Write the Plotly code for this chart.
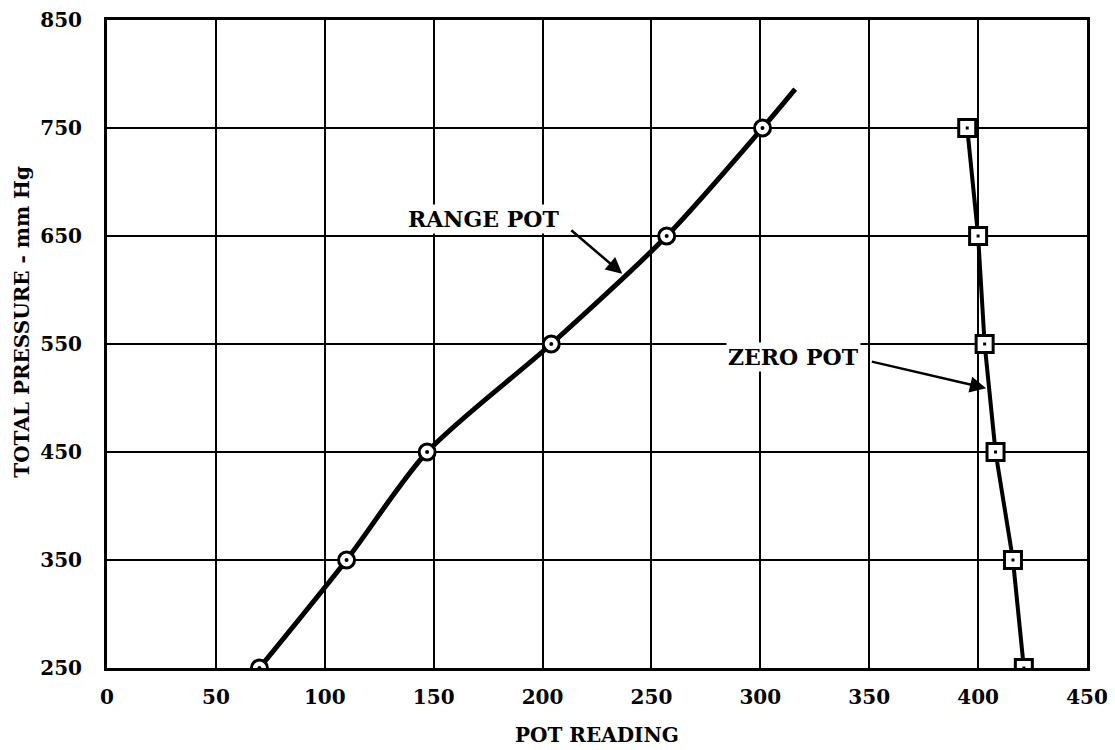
import plotly.graph_objects as go

# ---- data ----
range_pot_x = [70, 110, 147, 204, 257, 301]
range_pot_y = [250, 350, 450, 550, 650, 750]
range_curve_end_x = [316]
range_curve_end_y = [786]

zero_pot_x = [395, 400, 403, 408, 416, 421]
zero_pot_y = [750, 650, 550, 450, 350, 250]

x_ticks = [0, 50, 100, 150, 200, 250, 300, 350, 400, 450]
y_ticks = [250, 350, 450, 550, 650, 750, 850]

SERIF = "DejaVu Serif"

fig = go.Figure()

# RANGE POT curve (smooth) incl. extension past the last point
fig.add_trace(go.Scatter(
    x=range_pot_x + range_curve_end_x, y=range_pot_y + range_curve_end_y,
    mode="lines", line=dict(color="black", width=5, shape="spline", smoothing=0.8),
    hoverinfo="skip", showlegend=False))
fig.add_trace(go.Scatter(
    x=range_pot_x, y=range_pot_y, mode="markers",
    marker=dict(symbol="circle", size=16, color="white", line=dict(color="black", width=3)),
    showlegend=False))
fig.add_trace(go.Scatter(
    x=range_pot_x, y=range_pot_y, mode="markers",
    marker=dict(symbol="circle", size=4, color="black"), showlegend=False, hoverinfo="skip"))

# ZERO POT line
fig.add_trace(go.Scatter(
    x=zero_pot_x, y=zero_pot_y, mode="lines",
    line=dict(color="black", width=4), hoverinfo="skip", showlegend=False))
fig.add_trace(go.Scatter(
    x=zero_pot_x, y=zero_pot_y, mode="markers",
    marker=dict(symbol="square", size=17, color="white", line=dict(color="black", width=3)),
    showlegend=False))
fig.add_trace(go.Scatter(
    x=zero_pot_x, y=zero_pot_y, mode="markers",
    marker=dict(symbol="square", size=3, color="black"), showlegend=False, hoverinfo="skip"))

label_font = dict(family=SERIF, size=22, color="black", weight="bold")
title_font = dict(family=SERIF, size=20, color="black", weight=600)

annotations = [
    # RANGE POT label + arrow
    dict(x=173, y=666, xref="x", yref="y", text="RANGE POT", showarrow=False,
         font=label_font, bgcolor="white", borderpad=1),
    dict(x=236.6, y=615, ax=212.5, ay=656.5, xref="x", yref="y", axref="x", ayref="y",
         text="", showarrow=True, arrowhead=2, arrowsize=1.3, arrowwidth=2.5, arrowcolor="black"),
    # ZERO POT label + arrow
    dict(x=315, y=538, xref="x", yref="y", text="ZERO POT", showarrow=False,
         font=label_font, bgcolor="white", borderpad=1),
    dict(x=403.7, y=509, ax=350.5, ay=534, xref="x", yref="y", axref="x", ayref="y",
         text="", showarrow=True, arrowhead=2, arrowsize=1.3, arrowwidth=2.5, arrowcolor="black"),
    # axis titles
    dict(x=0.5, y=-0.103, xref="paper", yref="paper", text="POT READING", showarrow=False,
         font=title_font, xanchor="center", yanchor="middle"),
    dict(x=-0.087, y=0.534, xref="paper", yref="paper", text="TOTAL PRESSURE - mm Hg",
         showarrow=False, textangle=-90,
         font=title_font, xanchor="center", yanchor="middle"),
]

# the page body adds an 8px offset; margins compensate so the plot area lands in place
fig.update_layout(
    width=1115, height=750,
    margin=dict(l=99, r=36, t=12, b=90, autoexpand=False),
    paper_bgcolor="white", plot_bgcolor="white",
    showlegend=False,
    annotations=annotations,
    xaxis=dict(range=[0, 450], tickvals=x_ticks, ticktext=[str(v) for v in x_ticks],
               showgrid=True, gridcolor="black", gridwidth=2,
               showline=True, linecolor="black", linewidth=3, mirror=True,
               zeroline=False, ticks="", ticklabelstandoff=9, automargin=False,
               tickfont=dict(family=SERIF, size=20, color="black", weight="bold")),
    yaxis=dict(range=[250, 850], tickvals=y_ticks, ticktext=[str(v) for v in y_ticks],
               showgrid=True, gridcolor="black", gridwidth=2,
               showline=True, linecolor="black", linewidth=3, mirror=True,
               zeroline=False, ticks="", ticklabelstandoff=18, automargin=False,
               tickfont=dict(family=SERIF, size=20, color="black", weight="bold")),
)

fig.write_html("out.html")
